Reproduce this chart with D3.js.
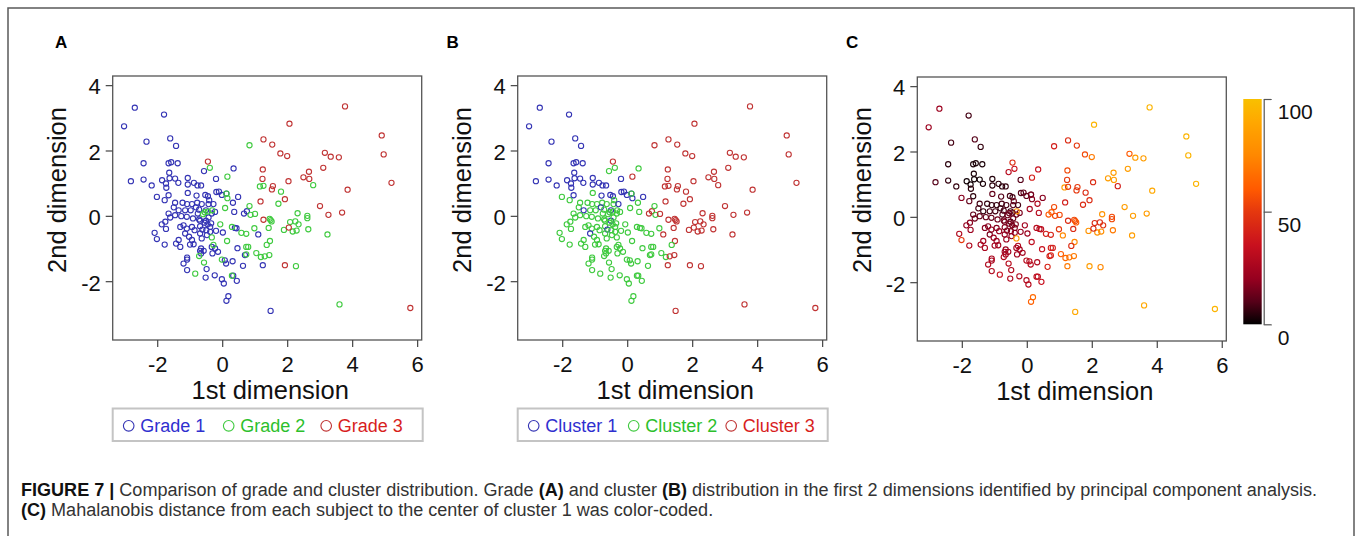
<!DOCTYPE html>
<html>
<head>
<meta charset="utf-8">
<script src="https://cdn.jsdelivr.net/npm/d3@7"></script>
<style>
  html, body { margin: 0; padding: 0; background: #fff; }
  svg { display: block; font-family: "Liberation Sans", Arial, sans-serif; }
</style>
</head>
<body>
<script>
// tick labels / legend texts
const xTicks = [-2, 0, 2, 4, 6];
const yTicks = [-2, 0, 2, 4];
const gradeNames = ["Grade 1", "Grade 2", "Grade 3"];
const clusterNames = ["Cluster 1", "Cluster 2", "Cluster 3"];
const distTicks = [0, 50, 100];

// points per grade: [1st dim, 2nd dim, cluster, distance percentile]
const grade1 = [
  [-2.69, 3.31, 1, 22], [-3.02, 2.74, 1, 22], [-1.79, 3.10, 1, 8], [-2.33, 2.27, 1, 8],
  [-1.60, 2.37, 1, 10], [-1.42, 2.14, 1, 6], [-2.42, 1.61, 1, 5], [-1.65, 1.61, 1, 3],
  [-1.57, 1.64, 1, 3], [-1.37, 1.61, 1, 3], [-2.81, 1.06, 1, 10], [-2.42, 1.11, 1, 6],
  [-2.17, 0.93, 1, 6], [-1.85, 1.09, 1, 2], [-1.73, 0.99, 1, 2], [-1.62, 1.15, 1, 2],
  [-1.63, 1.32, 1, 3], [-1.45, 1.14, 1, 2], [-1.35, 1.01, 1, 3], [-1.72, 0.86, 1, 5],
  [-1.06, 1.16, 1, 4], [-1.06, 0.96, 1, 5], [-0.87, 1.01, 1, 5], [-0.76, 0.93, 1, 5],
  [-0.65, 0.93, 1, 6], [-0.19, 1.13, 1, 10], [-0.56, 1.37, 2, 30], [0.35, 1.45, 2, 35],
  [-0.10, 0.74, 1, 12], [-0.18, 0.73, 1, 10], [0.13, 0.68, 1, 14], [-0.01, 0.64, 1, 12],
  [0.49, 0.58, 1, 18], [-0.52, 0.64, 1, 8], [-0.44, 0.60, 1, 8], [-0.40, 0.48, 2, 14],
  [-1.06, 0.70, 2, 12], [-0.79, 0.62, 1, 10], [-2.01, 0.58, 2, 18], [-1.77, 0.48, 2, 12],
  [-1.65, 0.63, 1, 5], [0.33, 0.40, 2, 28], [0.37, 0.12, 2, 30], [0.67, 0.07, 3, 60],
  [0.76, 0.14, 3, 62], [0.39, -0.37, 2, 30], [0.44, -0.38, 2, 32], [1.11, -0.57, 3, 75],
  [0.47, -0.99, 2, 35], [0.70, -1.20, 2, 40], [0.64, -1.53, 2, 42], [1.25, -1.51, 3, 70],
  [1.49, -2.91, 3, 90], [0.34, -1.83, 2, 32], [0.45, -1.99, 2, 35], [0.08, -1.36, 2, 30],
  [0.12, -1.46, 2, 30], [0.19, -2.46, 2, 65], [0.13, -2.60, 2, 62],
  [-1.45, 0.40, 2, 8], [-1.22, 0.40, 2, 6], [-1.08, 0.36, 2, 6], [-0.93, 0.36, 2, 6],
  [-0.77, 0.40, 2, 8], [-0.63, 0.36, 2, 8], [-0.42, 0.36, 2, 10], [-0.27, 0.36, 1, 8],
  [-1.49, 0.26, 2, 8], [-1.34, 0.17, 1, 6], [-1.14, 0.17, 2, 8], [-0.97, 0.17, 2, 8],
  [-0.81, 0.26, 1, 6], [-0.71, 0.19, 2, 9], [-0.75, 0.07, 2, 10], [-0.50, 0.17, 1, 7],
  [-0.32, 0.07, 2, 14], [-0.22, 0.12, 2, 16], [-1.65, 0.07, 2, 12], [-1.60, -0.05, 2, 14],
  [-1.75, -0.18, 2, 18], [-1.86, -0.26, 2, 20], [-1.73, -0.40, 2, 22], [-2.08, -0.52, 2, 28],
  [-2.01, -0.71, 2, 50], [-1.77, -0.88, 2, 28], [-1.45, 0.02, 2, 12], [-1.26, -0.01, 2, 12],
  [-1.09, -0.03, 2, 12], [-0.90, -0.08, 2, 14], [-0.71, -0.11, 2, 14], [-0.50, -0.15, 1, 10],
  [-0.42, -0.05, 2, 14], [-0.34, -0.23, 2, 16], [-1.29, -0.34, 2, 18], [-1.19, -0.29, 2, 18],
  [-1.09, -0.39, 2, 20], [-0.93, -0.34, 2, 18], [-0.85, -0.44, 2, 20], [-0.68, -0.32, 2, 18],
  [-0.61, -0.42, 1, 16], [-0.49, -0.44, 2, 18], [-0.37, -0.49, 2, 20], [-0.47, -0.59, 2, 20],
  [-0.54, -0.21, 2, 16], [-0.37, -0.34, 2, 18], [-0.19, -0.46, 2, 20], [0.02, -0.51, 2, 22],
  [-0.68, -0.15, 2, 16], [-0.45, -0.26, 2, 16], [-1.14, -0.54, 1, 16], [-1.02, -0.64, 2, 22],
  [-0.93, -0.74, 2, 22], [-0.99, -0.88, 2, 24], [-0.88, -0.87, 2, 24], [-1.34, -0.74, 2, 24],
  [-1.42, -0.85, 2, 26], [-1.29, -0.95, 2, 26], [-0.68, -0.54, 2, 20], [-0.63, -0.69, 2, 22],
  [-0.65, -1.00, 2, 22], [-0.68, -1.07, 2, 24], [-0.57, -1.07, 2, 24], [-0.65, -1.15, 2, 24],
  [-0.32, -0.95, 2, 24], [-0.22, -1.00, 2, 24], [-0.13, -1.10, 2, 24], [-0.30, -1.15, 2, 24],
  [-1.08, -1.28, 2, 26], [-1.08, -1.34, 2, 26], [-1.19, -1.46, 2, 28], [-1.08, -1.66, 2, 28],
  [-0.48, -1.63, 2, 28], [-0.51, -1.89, 2, 28], [-0.23, -1.82, 2, 28], [-0.01, -1.94, 2, 28],
  [0.05, -2.07, 2, 30], [0.32, -1.39, 2, 28]
];

const grade2 = [
  [0.84, 2.16, 3, 40], [0.16, 1.20, 3, 40], [-0.38, 1.47, 2, 35], [0.16, 0.54, 1, 18],
  [0.13, 0.68, 2, 15], [0.09, 0.24, 2, 25], [-0.54, 0.11, 2, 14], [-0.31, 0.17, 2, 80],
  [-0.59, 0.05, 2, 14], [-0.44, 0.13, 2, 12], [-0.06, -0.26, 2, 24], [0.30, -0.34, 2, 30],
  [-0.32, -0.66, 2, 85], [0.15, -0.77, 2, 32], [-0.27, -0.89, 2, 28], [-0.71, -1.23, 2, 28],
  [-0.56, -1.43, 2, 30], [-0.01, -1.34, 2, 30], [-0.83, -1.77, 2, 34], [0.30, -1.83, 2, 32],
  [2.80, 0.94, 3, 40], [1.16, 0.90, 3, 85], [1.27, 0.92, 3, 50], [1.81, 0.74, 3, 45],
  [1.73, 0.37, 3, 45], [0.84, 0.30, 2, 55], [0.87, 0.03, 2, 55], [1.01, 0.06, 3, 55],
  [2.32, 0.08, 3, 80], [2.62, 0.00, 3, 55], [2.62, -0.07, 3, 55], [2.09, -0.19, 3, 45],
  [2.25, -0.17, 3, 45], [2.35, -0.26, 3, 48], [2.17, -0.48, 3, 80], [2.29, -0.45, 3, 78],
  [1.90, -0.43, 3, 80], [2.65, -0.41, 3, 70], [1.46, -0.09, 3, 55], [1.49, -0.13, 3, 55],
  [1.52, -0.17, 3, 60], [1.43, -0.37, 3, 45], [0.99, -0.38, 2, 50], [3.24, -0.57, 3, 85],
  [0.59, -0.52, 2, 40], [0.74, -0.55, 2, 42], [1.47, -0.77, 3, 75], [1.37, -0.89, 2, 45],
  [1.05, -1.14, 2, 60], [1.19, -1.26, 2, 65], [1.31, -1.24, 3, 68], [1.45, -1.20, 3, 70],
  [0.74, -0.95, 2, 40], [0.80, -0.95, 2, 40], [0.74, -1.18, 2, 42], [2.27, -1.54, 3, 75],
  [3.61, -2.71, 3, 90]
];

const grade3 = [
  [3.78, 3.35, 3, 95], [2.07, 2.82, 3, 95], [1.27, 2.34, 3, 45], [1.54, 2.18, 3, 50],
  [1.79, 1.91, 3, 55], [2.00, 1.83, 3, 70], [3.16, 1.93, 3, 60], [3.34, 1.81, 3, 85],
  [3.59, 1.79, 3, 85], [4.91, 2.46, 3, 95], [4.97, 1.88, 3, 95], [5.21, 1.01, 3, 95],
  [1.25, 1.42, 3, 55], [1.24, 1.13, 3, 50], [2.67, 1.35, 3, 85], [2.50, 1.18, 3, 85],
  [2.68, 1.13, 3, 85], [3.11, 1.47, 3, 85], [2.04, 1.06, 3, 45], [3.86, 0.80, 3, 90],
  [1.56, 0.91, 3, 50], [1.53, 0.81, 3, 50], [1.93, 0.51, 3, 45], [1.18, 0.44, 3, 40],
  [3.01, 0.30, 3, 85], [3.27, 0.03, 3, 85], [3.69, 0.10, 3, 85], [1.27, -0.12, 3, 45],
  [2.05, -0.36, 3, 45], [1.93, -1.51, 3, 85], [5.79, -2.82, 3, 95], [-0.44, 1.66, 3, 45]
];

const points = [grade1, grade2, grade3].flatMap((arr, gi) =>
  arr.map(p => ({ x: p[0], y: p[1], grade: gi + 1, cluster: p[2], dist: p[3] })));

const W = 1357, H = 536;
const svg = d3.select("body").append("svg").attr("width", W).attr("height", H);

// outer frame
svg.append("path")
  .attr("d", `M8,${H + 5} V8 H1354 V${H + 5}`)
  .attr("fill", "none").attr("stroke", "#5a5a5a").attr("stroke-width", 1.5);

const pointCol = ["#3434b4", "#3fca3f", "#c03434"];
const textCol = ["#2f2fcf", "#2cbf2c", "#d81e1e"];
const heat = d3.scaleLinear()
  .domain([0, 10, 20, 35, 50, 60, 75, 90, 100])
  .range(["#000000", "#550018", "#95001f", "#c8101e", "#e5380e", "#ff5a00", "#ff8800", "#ffa800", "#f8c000"]);

const plotW = 309, plotH = 264;
const panels = [
  { label: "A", labelX: 55, left: 112.7, top: 76, colorOf: d => pointCol[d.grade - 1], legend: gradeNames },
  { label: "B", labelX: 446.5, left: 517.7, top: 76, colorOf: d => pointCol[d.cluster - 1], legend: clusterNames },
  { label: "C", labelX: 846, left: 917.3, top: 77, colorOf: d => heat(d.dist), legend: null }
];

panels.forEach(p => {
  const g = svg.append("g").attr("transform", `translate(${p.left},${p.top})`);
  const x = d3.scaleLinear().domain([-3.37, 6.14]).range([0, plotW]);
  const y = d3.scaleLinear().domain([-3.80, 4.28]).range([plotH, 0]);

  svg.append("text")
    .attr("x", p.labelX).attr("y", 48)
    .attr("font-weight", "bold").attr("font-size", 17)
    .text(p.label);

  // points
  g.selectAll("circle.pt").data(points).enter().append("circle")
    .attr("class", "pt")
    .attr("cx", d => x(d.x)).attr("cy", d => y(d.y)).attr("r", 2.6)
    .attr("fill", "none").attr("stroke", p.colorOf).attr("stroke-width", 1.1);

  // box
  g.append("rect").attr("width", plotW).attr("height", plotH)
    .attr("fill", "none").attr("stroke", "#555").attr("stroke-width", 1.3);

  const xa = g.append("g").attr("transform", `translate(0,${plotH})`)
    .call(d3.axisBottom(x).tickValues(xTicks).tickSize(7).tickSizeOuter(0).tickFormat(d => String(d)));
  const ya = g.append("g")
    .call(d3.axisLeft(y).tickValues(yTicks).tickSize(7).tickSizeOuter(0).tickFormat(d => String(d)));
  [xa, ya].forEach(a => {
    a.select(".domain").remove();
    a.selectAll("line").attr("stroke", "#444").attr("stroke-width", 1.2);
    a.selectAll("text").attr("font-size", 22).attr("fill", "#111")
      .attr("font-family", "Liberation Sans, Arial, sans-serif");
  });
  xa.selectAll("text").attr("dy", null).attr("y", 32);
  ya.selectAll("text").attr("x", -12).attr("dy", "0.4em");

  g.append("text").attr("x", plotW / 2 + 3).attr("y", plotH + 58.5)
    .attr("text-anchor", "middle").attr("font-size", 25.5).attr("fill", "#111")
    .text("1st dimension");
  g.append("text")
    .attr("transform", `translate(-46.5,${190 - p.top}) rotate(-90)`)
    .attr("text-anchor", "middle").attr("font-size", 25.5).attr("fill", "#111")
    .text("2nd dimension");

  if (p.legend) {
    const lg = svg.append("g").attr("transform", `translate(${p.left},408.5)`);
    lg.append("rect").attr("width", plotW + 1).attr("height", 32.5)
      .attr("fill", "#fff").attr("stroke", "#c4c4c4").attr("stroke-width", 2);
    const offs = [16, 116, 213.5];
    p.legend.forEach((name, i) => {
      lg.append("circle").attr("cx", offs[i]).attr("cy", 17.3).attr("r", 5.3)
        .attr("fill", "none").attr("stroke", pointCol[i]).attr("stroke-width", 1.1);
      lg.append("text").attr("x", offs[i] + 11.5).attr("y", 23.5)
        .attr("font-size", 18).attr("fill", textCol[i]).text(name);
    });
  }
});

// colour bar for panel C
const cb = { x: 1243.3, y0: 99, y1: 324.3, w: 18.4 };
const grad = svg.append("defs").append("linearGradient")
  .attr("id", "heatgrad").attr("x1", 0).attr("y1", 1).attr("x2", 0).attr("y2", 0);
d3.range(0, 101, 5).forEach(v => {
  grad.append("stop").attr("offset", v / 100).attr("stop-color", heat(v));
});
svg.append("rect").attr("x", cb.x).attr("y", cb.y0).attr("width", cb.w).attr("height", cb.y1 - cb.y0)
  .attr("fill", "url(#heatgrad)");
const cScale = d3.scaleLinear().domain([0, 100]).range([cb.y1, cb.y0]);
const cbAxis = svg.append("g").attr("transform", `translate(${cb.x + cb.w + 2},0)`)
  .call(d3.axisRight(cScale).tickValues(distTicks).tickSize(8).tickSizeOuter(0));
cbAxis.select(".domain").attr("stroke", "#555").attr("stroke-width", 1.2);
cbAxis.selectAll("line").attr("stroke", "#555").attr("stroke-width", 1.2);
cbAxis.selectAll("text").attr("x", 14).attr("dy", "0.95em")
  .attr("font-size", 21).attr("fill", "#111")
  .attr("font-family", "Liberation Sans, Arial, sans-serif");

// caption
const cap = svg.append("g").attr("font-size", 15).attr("fill", "#333");
const line1 = cap.append("text").attr("x", 21).attr("y", 496);
line1.append("tspan").attr("font-weight", "bold").attr("fill", "#111").text("FIGURE 7 | ");
line1.append("tspan").text("Comparison of grade and cluster distribution. Grade ");
line1.append("tspan").attr("font-weight", "bold").attr("fill", "#111").text("(A)");
line1.append("tspan").text(" and cluster ");
line1.append("tspan").attr("font-weight", "bold").attr("fill", "#111").text("(B)");
line1.append("tspan").text(" distribution in the first 2 dimensions identified by principal component analysis.");
const line2 = cap.append("text").attr("x", 21).attr("y", 516);
line2.append("tspan").attr("font-weight", "bold").attr("fill", "#111").text("(C)");
line2.append("tspan").text(" Mahalanobis distance from each subject to the center of cluster 1 was color-coded.");

// fit caption width to the reference line length
const len = line1.node().getComputedTextLength();
cap.attr("font-size", 15 * 1297 / len);
</script>
</body>
</html>
